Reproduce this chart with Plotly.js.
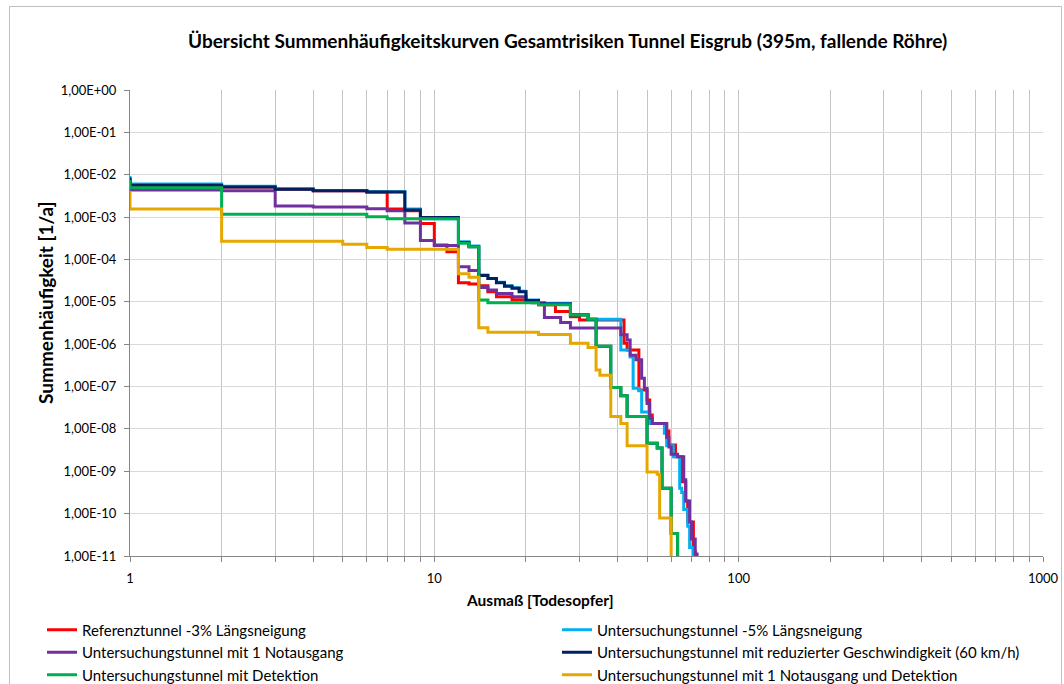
<!DOCTYPE html>
<html>
<head>
<meta charset="utf-8">
<script src="https://cdn.plot.ly/plotly-3.0.1.min.js"></script>
<style>html,body{margin:0;padding:0;background:#fff;}#chart{width:1064px;height:684px;}</style>
</head>
<body>
<div id="chart"></div>
<script>
// ---- Data ----
const seriesNames = [
  "Referenztunnel -3% Längsneigung",
  "Untersuchungstunnel -5% Längsneigung",
  "Untersuchungstunnel mit 1 Notausgang",
  "Untersuchungstunnel mit reduzierter Geschwindigkeit (60 km/h)",
  "Untersuchungstunnel mit Detektion",
  "Untersuchungstunnel mit 1 Notausgang und Detektion"
];
const seriesColors = ["#FF0000", "#00B0F0", "#7030A0", "#002060", "#00B050", "#E6A800"];

const refX = [1, 1, 2, 3, 4, 6, 7, 8, 9, 10, 11, 12, 13, 14, 15, 16, 18, 20, 22, 25, 28, 30, 42, 43, 47, 50, 51, 52, 58, 59, 62, 65, 67, 68, 71, 72];
const refY = [8.51e-3, 5.62e-3, 5.13e-3, 4.57e-3, 4.17e-3, 3.89e-3, 1.55e-3, 1.41e-3, 7.08e-4, 2.19e-4, 1.51e-4, 2.82e-5, 2.63e-5, 2.40e-5, 1.74e-5, 1.32e-5, 1.12e-5, 1.0e-5, 8.51e-6, 5.89e-6, 4.47e-6, 3.72e-6, 1.05e-6, 7.24e-7, 8.32e-8, 4.79e-8, 2.14e-8, 1.35e-8, 8.91e-9, 4.17e-9, 2.19e-9, 5.62e-10, 2.0e-10, 6.31e-11, 1.26e-11, 1e-12];

const neig5X = [1, 1, 2, 3, 4, 6, 8, 9, 12, 13, 14, 15, 16, 17, 18, 19, 20, 22, 28, 32, 41, 44, 45, 47, 48, 51, 57, 58, 61, 64, 65, 66, 68, 69, 71];
const neig5Y = [9.33e-3, 6.03e-3, 5.37e-3, 4.68e-3, 4.27e-3, 3.98e-3, 1.55e-3, 9.12e-4, 2.63e-4, 2.09e-4, 4.27e-5, 3.55e-5, 2.88e-5, 2.40e-5, 2.14e-5, 1.78e-5, 1.10e-5, 9.12e-6, 5.01e-6, 3.89e-6, 7.24e-7, 5.01e-7, 9.12e-8, 7.94e-8, 2.51e-8, 1.35e-8, 7.94e-9, 3.98e-9, 2.19e-9, 3.98e-10, 3.16e-10, 1.26e-10, 5.01e-11, 1.58e-11, 1e-12];

const notX = [1, 1, 2, 3, 4, 6, 7, 8, 9, 10, 12, 13, 14, 15, 16, 18, 20, 21, 23, 26, 28, 41, 43, 44, 46, 48, 49, 50, 51, 52, 58, 59, 60, 63, 66, 67, 69, 70, 72, 73];
const notY = [8.71e-3, 4.37e-3, 4.17e-3, 1.82e-3, 1.74e-3, 1.58e-3, 1.41e-3, 7.24e-4, 2.82e-4, 2.14e-4, 6.76e-5, 5.50e-5, 2.19e-5, 1.91e-5, 1.58e-5, 1.32e-5, 1.07e-5, 9.55e-6, 4.27e-6, 3.24e-6, 2.40e-6, 1.66e-6, 1.26e-6, 5.50e-7, 4.27e-7, 1.58e-7, 9.12e-8, 3.98e-8, 1.78e-8, 1.35e-8, 6.31e-9, 3.72e-9, 2.51e-9, 2.19e-9, 6.31e-10, 2.0e-10, 6.31e-11, 2.51e-11, 1.12e-11, 1e-12];

const geschwX = [1, 1, 2, 3, 4, 6, 8, 9, 12, 13, 14, 15, 16, 17, 18, 19, 20, 22, 28, 32, 34, 38, 41, 43, 50, 54, 56, 60, 63];
const geschwY = [8.32e-3, 5.62e-3, 5.13e-3, 4.57e-3, 4.17e-3, 3.89e-3, 1.48e-3, 9.77e-4, 2.51e-4, 2.0e-4, 4.17e-5, 3.55e-5, 2.82e-5, 2.34e-5, 2.09e-5, 1.74e-5, 1.07e-5, 8.91e-6, 4.90e-6, 3.89e-6, 8.91e-7, 9.55e-8, 6.03e-8, 1.95e-8, 4.57e-9, 3.55e-9, 3.98e-10, 3.39e-11, 1e-12];

const detX = [1, 1, 2, 6, 7, 12, 13, 14, 15, 22, 28, 32, 34, 38, 41, 43, 50, 54, 56, 60, 63];
const detY = [7.59e-3, 4.90e-3, 1.16e-3, 1.02e-3, 9.12e-4, 2.40e-4, 2.0e-4, 1.10e-5, 9.55e-6, 8.51e-6, 4.90e-6, 3.89e-6, 8.91e-7, 9.55e-8, 6.03e-8, 1.95e-8, 4.57e-9, 3.55e-9, 3.98e-10, 3.39e-11, 1e-12];

const notDetX = [1, 1, 2, 5, 6, 7, 12, 13, 14, 15, 22, 28, 32, 34, 35, 38, 41, 43, 50, 54, 55, 60];
const notDetY = [3.98e-3, 1.55e-3, 2.69e-4, 2.29e-4, 1.91e-4, 1.74e-4, 4.57e-5, 3.80e-5, 2.45e-6, 1.91e-6, 1.70e-6, 1.05e-6, 8.32e-7, 2.45e-7, 1.86e-7, 1.95e-8, 1.35e-8, 3.98e-9, 9.55e-10, 8.51e-10, 7.94e-11, 1e-12];

const yTickVals = [1, 1e-1, 1e-2, 1e-3, 1e-4, 1e-5, 1e-6, 1e-7, 1e-8, 1e-9, 1e-10, 1e-11];
const yTickText = ["1,00E+00", "1,00E-01", "1,00E-02", "1,00E-03", "1,00E-04", "1,00E-05", "1,00E-06", "1,00E-07", "1,00E-08", "1,00E-09", "1,00E-10", "1,00E-11"];
const xTickVals = [1,2,3,4,5,6,7,8,9,10,20,30,40,50,60,70,80,90,100,200,300,400,500,600,700,800,900,1000];
const xTickText = ["1","","","","","","","","","10","","","","","","","","","100","","","","","","","","","1000"];

const chartTitle = "Übersicht Summenhäufigkeitskurven Gesamtrisiken Tunnel Eisgrub (395m, fallende Röhre)";
const xTitle = "Ausmaß [Todesopfer]";
const yTitle = "Summenhäufigkeit [1/a]";

// ---- Build traces ----
const xs = [refX, neig5X, notX, geschwX, detX, notDetX];
const ys = [refY, neig5Y, notY, geschwY, detY, notDetY];
const traces = xs.map((x, i) => ({
  type: "scatter",
  mode: "lines",
  x: x,
  y: ys[i],
  name: seriesNames[i],
  line: {color: seriesColors[i], width: 3, shape: "hv"}
}));

const FONT = "Lato, 'Open Sans', sans-serif";
const L = 130, R = 1043, T = 90, B = 556;
const pw = R - L, ph = B - T;
const px = v => (v - L) / pw;
const py = v => (B - v) / ph;

const layout = {
  width: 1064, height: 684,
  margin: {l: L, r: 1064 - R, t: T, b: 684 - B, autoexpand: false},
  paper_bgcolor: "#ffffff", plot_bgcolor: "#ffffff",
  font: {family: FONT, size: 13, color: "#000"},
  showlegend: true,
  xaxis: {
    type: "log", range: [0, 3],
    tickmode: "array", tickvals: xTickVals, ticktext: xTickText,
    ticks: "outside", ticklen: 5, tickcolor: "#868686",
    showline: true, linecolor: "#868686", linewidth: 1,
    showgrid: true, gridcolor: "#C4C4C4", gridwidth: 1,
    zeroline: false, tickfont: {family: FONT, size: 13, color: "#000"},
    ticklabelstandoff: 5
  },
  yaxis: {
    type: "log", range: [-11, 0],
    tickmode: "array", tickvals: yTickVals, ticktext: yTickText,
    ticks: "outside", ticklen: 5, tickcolor: "#868686",
    showline: true, linecolor: "#868686", linewidth: 1,
    showgrid: true, gridcolor: "#D9D9D9", gridwidth: 1,
    zeroline: false, tickfont: {family: FONT, size: 13, color: "#000"},
    ticklabelstandoff: 5
  },
  legend: {
    orientation: "h",
    x: px(42), xanchor: "left",
    y: py(613.5), yanchor: "top",
    entrywidth: 470, entrywidthmode: "pixels",
    font: {family: FONT, size: 15, color: "#000"},
    tracegroupgap: 0,
    bgcolor: "rgba(0,0,0,0)"
  },
  annotations: [
    {text: "<b>" + chartTitle + "</b>", xref: "paper", yref: "paper", x: px(567), y: py(40),
     xanchor: "center", yanchor: "middle", showarrow: false, font: {family: FONT, size: 19, color: "#000"}},
    {text: "<b>" + xTitle + "</b>", xref: "paper", yref: "paper", x: px(540), y: py(600),
     xanchor: "center", yanchor: "middle", showarrow: false, font: {family: FONT, size: 15.5, color: "#000"}},
    {text: "<b>" + yTitle + "</b>", xref: "paper", yref: "paper", x: px(45), y: py(303),
     xanchor: "center", yanchor: "middle", textangle: -90, showarrow: false, font: {family: FONT, size: 19, color: "#000"}}
  ],
  shapes: [
    {type: "rect", xref: "paper", yref: "paper", x0: px(9.5), x1: px(1061.5), y0: py(700), y1: py(6.5),
     line: {color: "#BFBFBF", width: 1}, fillcolor: "rgba(0,0,0,0)", layer: "below"}
  ]
};

Plotly.newPlot("chart", traces, layout, {staticPlot: true, displayModeBar: false});
</script>
</body>
</html>
